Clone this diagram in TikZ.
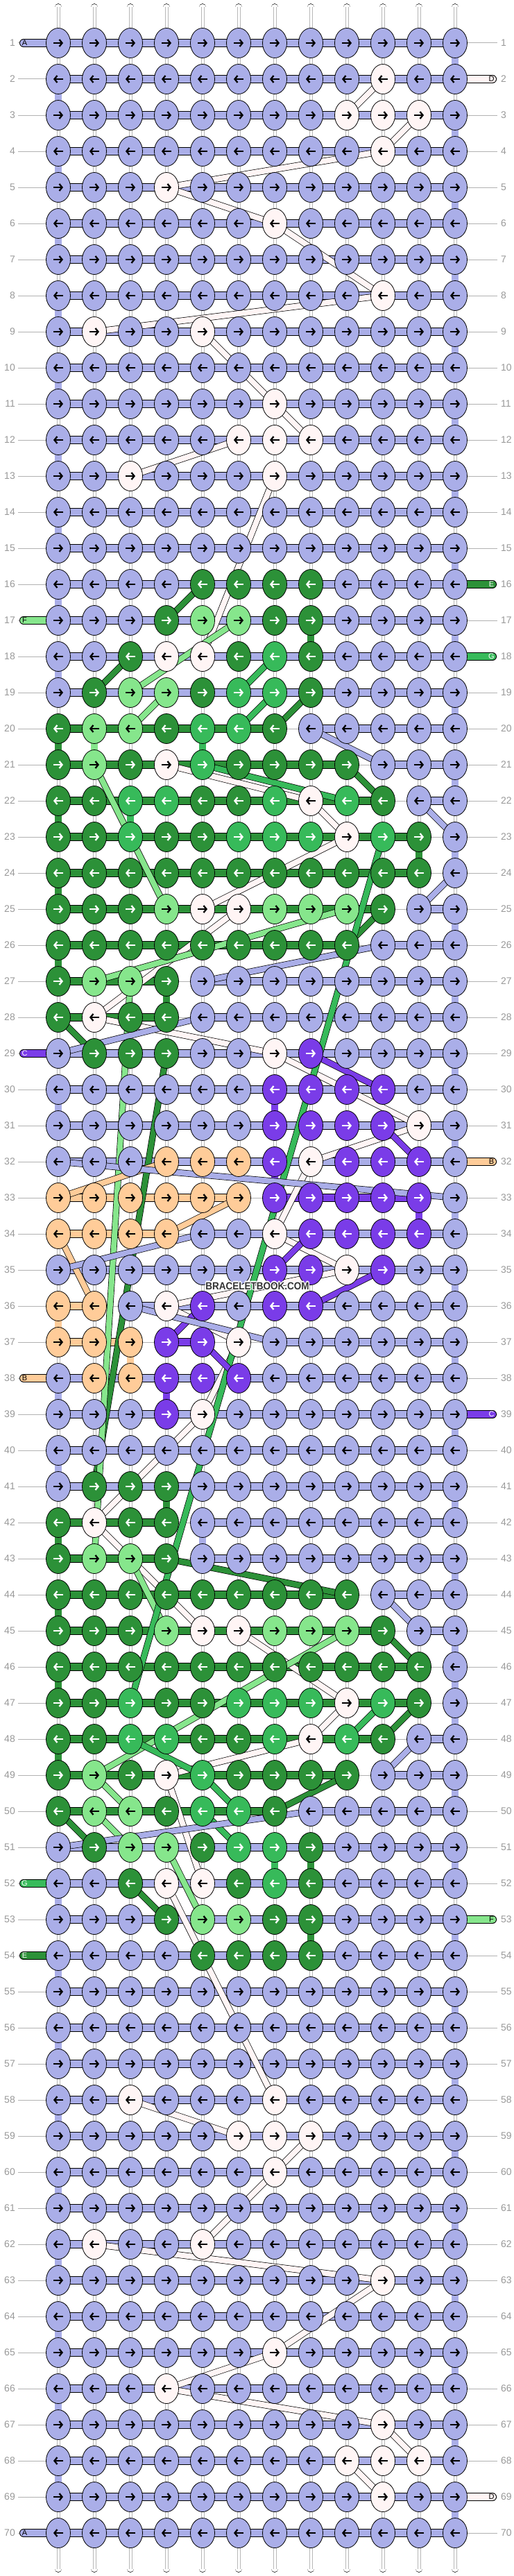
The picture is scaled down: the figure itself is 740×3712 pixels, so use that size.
\documentclass[tikz,border=0pt]{standalone}
\usepackage{fontspec}
\setmainfont{Liberation Sans}
\usetikzlibrary{shapes.geometric,arrows.meta}
\pgfdeclarelayer{guides}
\pgfdeclarelayer{strings}
\pgfdeclarelayer{bars}
\pgfdeclarelayer{bands}
\pgfsetlayers{guides,strings,bars,bands,main}
\definecolor{kfb}{HTML}{AAAEE8}
\definecolor{kfw}{HTML}{FFF5F5}
\definecolor{kfD}{HTML}{2C9138}
\definecolor{kfM}{HTML}{37BA5A}
\definecolor{kfL}{HTML}{86E68C}
\definecolor{kfP}{HTML}{7A3CE8}
\definecolor{kfO}{HTML}{FFCC99}
\colorlet{afb}{black}
\colorlet{afw}{black}
\colorlet{afD}{white}
\colorlet{afM}{white}
\colorlet{afL}{black}
\colorlet{afP}{white}
\colorlet{afO}{black}
\tikzset{
  knot/.style={ellipse, draw=black, line width=.8pt, minimum width=35pt, minimum height=43pt, inner sep=0pt},
  karrow/.style={line width=2.3pt, -{Straight Barb[length=4pt,width=10pt]}},
  hbar/.style={draw=black, line width=.8pt, double=#1, double distance=10.4pt},
  vcon/.style={draw=black, line width=.8pt, double=#1, double distance=9.2pt},
  band/.style={draw=black, line width=.7pt, double=#1, double distance=8pt},
  basestr/.style={draw=black, line width=.8pt, double=white, double distance=9.2pt, line cap=round},
  guide/.style={draw=black!30, line width=1pt},
  rownum/.style={text=black!40, font=\fontsize{14}{14}\selectfont, inner sep=0pt},
  tabbar/.style={draw=black, line width=.8pt, double=#1, double distance=10.4pt, line cap=round},
  tablabel/.style={font=\fontsize{11}{11}\selectfont, inner sep=0pt},
  wmark/.style={font=\bfseries\fontsize{15}{15}\selectfont, inner sep=0pt},
}
\newcount\kcol
\def\knotrow#1#2{\def\krow{#1}\global\kcol=0\relax\kparse#2\relax}
\def\kparse#1{\ifx\relax#1\else\global\advance\kcol by 1\relax\edef\kdo{\noexpand\drawknot{\krow}{\the\kcol}{#1}}\kdo\expandafter\kparse\fi}
\def\drawknot#1#2#3{%
  \node[knot,fill=kf#3] (k-#1-#2) at ({32+52*#2},{10+52*#1}) {};%
  \ifodd#1\relax
    \draw[karrow,color=af#3] ([xshift=-7pt]k-#1-#2.center) -- ([xshift=7pt]k-#1-#2.center);%
  \else
    \draw[karrow,color=af#3] ([xshift=7pt]k-#1-#2.center) -- ([xshift=-7pt]k-#1-#2.center);%
  \fi}
\newcommand\hbarx[4]{\draw[hbar=#4] (k-#1-#2.center) -- (k-#1-#3.center);}
\newcommand\vconx[5]{\draw[vcon=kf#5] (k-#1-#2.center) -- (k-#3-#4.center);}
\newcommand\bandx[5]{\draw[band=kf#5] (k-#1-#2.center) -- (k-#3-#4.center);}
\newcommand\ltab[4]{%
  \coordinate (tl-#1) at (34,{10+52*#1});
  \begin{pgfonlayer}{bars}\draw[tabbar=kf#3] (tl-#1) -- (k-#1-1.center);\end{pgfonlayer}
  \node[tablabel,text=#4] (tll-#1) at (35.5,{10+52*#1}) {#2};}
\newcommand\rtab[4]{%
  \coordinate (tr-#1) at (710,{10+52*#1});
  \begin{pgfonlayer}{bars}\draw[tabbar=kf#3] (k-#1-12.center) -- (tr-#1);\end{pgfonlayer}
  \node[tablabel,text=#4] (trl-#1) at (708.5,{10+52*#1}) {#2};}
\begin{document}
\begin{tikzpicture}[x=1pt,y=-1pt]
\useasboundingbox (0,0) rectangle (740,3712);
% knots
\knotrow{1}{bbbbbbbbbbbb}
\knotrow{2}{bbbbbbbbbwbb}
\knotrow{3}{bbbbbbbbwwwb}
\knotrow{4}{bbbbbbbbbwbb}
\knotrow{5}{bbbwbbbbbbbb}
\knotrow{6}{bbbbbbwbbbbb}
\knotrow{7}{bbbbbbbbbbbb}
\knotrow{8}{bbbbbbbbbwbb}
\knotrow{9}{bwbbwbbbbbbb}
\knotrow{10}{bbbbbbbbbbbb}
\knotrow{11}{bbbbbbwbbbbb}
\knotrow{12}{bbbbbwwwbbbb}
\knotrow{13}{bbwbbbwbbbbb}
\knotrow{14}{bbbbbbbbbbbb}
\knotrow{15}{bbbbbbbbbbbb}
\knotrow{16}{bbbbDDDDbbbb}
\knotrow{17}{bbbDLLDDbbbb}
\knotrow{18}{bbDwwDMDbbbb}
\knotrow{19}{bDLLDMMDbbbb}
\knotrow{20}{DLLDMMDbbbbb}
\knotrow{21}{DLDwMDDDDbbb}
\knotrow{22}{DDMMDDMwMDbb}
\knotrow{23}{DDMDDMMMwMDb}
\knotrow{24}{DDDDDDDDDDDb}
\knotrow{25}{DDDLwwLLLDbb}
\knotrow{26}{DDDDDDDDDbbb}
\knotrow{27}{DLLDbbbbbbbb}
\knotrow{28}{DwDDbbbbbbbb}
\knotrow{29}{bDDDbbwPbbbb}
\knotrow{30}{bbbbbbPPPPbb}
\knotrow{31}{bbbbbbPPPPwb}
\knotrow{32}{bbbOOOPwPPPb}
\knotrow{33}{OOOOOOPPPPPb}
\knotrow{34}{OOOObbwPPPPb}
\knotrow{35}{bbbbbbPPwPbb}
\knotrow{36}{OObwPbPPbbbb}
\knotrow{37}{OOOPPwbbbbbb}
\knotrow{38}{bOOPPPbbbbbb}
\knotrow{39}{bbbPwbbbbbbb}
\knotrow{40}{bbbbbbbbbbbb}
\knotrow{41}{bDDDbbbbbbbb}
\knotrow{42}{DwDDbbbbbbbb}
\knotrow{43}{DLLDbbbbbbbb}
\knotrow{44}{DDDDDDDDDbbb}
\knotrow{45}{DDDLwwLLLDbb}
\knotrow{46}{DDDDDDDDDDDb}
\knotrow{47}{DDMDDMMMwMDb}
\knotrow{48}{DDMMDDMwMDbb}
\knotrow{49}{DLDwMDDDDbbb}
\knotrow{50}{DLLDMMDbbbbb}
\knotrow{51}{bDLLDMMDbbbb}
\knotrow{52}{bbDwwDMDbbbb}
\knotrow{53}{bbbDLLDDbbbb}
\knotrow{54}{bbbbDDDDbbbb}
\knotrow{55}{bbbbbbbbbbbb}
\knotrow{56}{bbbbbbbbbbbb}
\knotrow{57}{bbbbbbbbbbbb}
\knotrow{58}{bbwbbbwbbbbb}
\knotrow{59}{bbbbbwwwbbbb}
\knotrow{60}{bbbbbbwbbbbb}
\knotrow{61}{bbbbbbbbbbbb}
\knotrow{62}{bwbbwbbbbbbb}
\knotrow{63}{bbbbbbbbbwbb}
\knotrow{64}{bbbbbbbbbbbb}
\knotrow{65}{bbbbbbwbbbbb}
\knotrow{66}{bbbwbbbbbbbb}
\knotrow{67}{bbbbbbbbbwbb}
\knotrow{68}{bbbbbbbbwwwb}
\knotrow{69}{bbbbbbbbbwbb}
\knotrow{70}{bbbbbbbbbbbb}
% guides and row numbers
\begin{pgfonlayer}{guides}
\fill[white] (0,0) rectangle (740,3712);
\foreach \r in {1,...,70}{\draw[guide] (26,{10+52*\r}) -- (717,{10+52*\r});}
\end{pgfonlayer}
\foreach \r in {1,...,70}{
  \node[rownum,anchor=east] (ln-\r) at (22,{10+52*\r}) {\r};
  \node[rownum,anchor=west] (rn-\r) at (722,{10+52*\r}) {\r};
}
% base strings
\begin{pgfonlayer}{strings}
\foreach \c in {1,...,12}{
  \coordinate (st-\c) at ({32+52*\c},10.5);
  \coordinate (sb-\c) at ({32+52*\c},3701.5);
  \draw[basestr] (st-\c) -- (sb-\c);
  \draw[black!28,line width=.5pt] ([xshift=-2.2pt]st-\c) -- ([xshift=-2.2pt]sb-\c);
  \draw[black!28,line width=.5pt] ([xshift=2.2pt]st-\c) -- ([xshift=2.2pt]sb-\c);
}
\end{pgfonlayer}
% horizontal bars and vertical connectors
\begin{pgfonlayer}{bars}
\foreach \r in {1,...,19}{\hbarx{\r}{1}{12}{kfb}}
\foreach \r in {29,...,32}{\hbarx{\r}{1}{12}{kfb}}
\foreach \r in {35,38,39,40,41}{\hbarx{\r}{1}{12}{kfb}}
\foreach \r in {51,...,70}{\hbarx{\r}{1}{12}{kfb}}
\hbarx{20}{1}{7}{kfD}\hbarx{20}{8}{12}{kfb}
\hbarx{21}{1}{9}{kfD}\hbarx{21}{10}{12}{kfb}
\hbarx{22}{1}{10}{kfD}\hbarx{22}{11}{12}{kfb}
\hbarx{23}{1}{11}{kfD}
\hbarx{24}{1}{11}{kfD}
\hbarx{25}{1}{10}{kfD}\hbarx{25}{11}{12}{kfb}
\hbarx{26}{1}{9}{kfD}\hbarx{26}{10}{12}{kfb}
\hbarx{27}{1}{4}{kfD}\hbarx{27}{5}{12}{kfb}
\hbarx{28}{1}{4}{kfD}\hbarx{28}{5}{12}{kfb}
\hbarx{33}{1}{6}{kfO}\hbarx{33}{7}{11}{kfP}
\hbarx{34}{1}{4}{kfO}\hbarx{34}{5}{12}{kfb}
\hbarx{36}{1}{2}{kfO}\hbarx{36}{3}{12}{kfb}
\hbarx{37}{1}{3}{kfO}\hbarx{37}{4}{5}{kfP}\hbarx{37}{7}{12}{kfb}
\hbarx{42}{1}{4}{kfD}\hbarx{42}{5}{12}{kfb}
\hbarx{43}{1}{4}{kfD}\hbarx{43}{5}{12}{kfb}
\hbarx{44}{1}{9}{kfD}\hbarx{44}{10}{12}{kfb}
\hbarx{45}{1}{10}{kfD}\hbarx{45}{11}{12}{kfb}
\hbarx{46}{1}{11}{kfD}
\hbarx{47}{1}{11}{kfD}
\hbarx{48}{1}{10}{kfD}\hbarx{48}{11}{12}{kfb}
\hbarx{49}{1}{9}{kfD}\hbarx{49}{10}{12}{kfb}
\hbarx{50}{1}{7}{kfD}\hbarx{50}{8}{12}{kfb}
% blue verticals
\foreach \r in {1,3,...,19}{\pgfmathtruncatemacro\rn{\r+1}\vconx{\r}{12}{\rn}{12}{b}}
\foreach \r in {51,53,...,69}{\pgfmathtruncatemacro\rn{\r+1}\vconx{\r}{12}{\rn}{12}{b}}
\foreach \r in {2,4,...,18}{\pgfmathtruncatemacro\rn{\r+1}\vconx{\r}{1}{\rn}{1}{b}}
\foreach \r in {52,54,...,68}{\pgfmathtruncatemacro\rn{\r+1}\vconx{\r}{1}{\rn}{1}{b}}
\foreach \r in {21,23,25,27,29,31,33,35,37,39,41,43,45,46,47,49}{\pgfmathtruncatemacro\rn{\r+1}\vconx{\r}{12}{\rn}{12}{b}}
\vconx{30}{1}{31}{1}{b}\vconx{38}{1}{39}{1}{b}\vconx{40}{1}{41}{1}{b}\vconx{42}{5}{43}{5}{b}
% dark green verticals
\vconx{17}{8}{18}{8}{D}\vconx{20}{1}{21}{1}{D}\vconx{22}{1}{23}{1}{D}\vconx{23}{11}{24}{11}{D}
\vconx{24}{1}{25}{1}{D}\vconx{26}{1}{27}{1}{D}\vconx{27}{4}{28}{4}{D}
\vconx{41}{4}{42}{4}{D}\vconx{42}{1}{43}{1}{D}\vconx{44}{1}{45}{1}{D}\vconx{46}{1}{47}{1}{D}
\vconx{48}{1}{49}{1}{D}\vconx{51}{8}{52}{8}{D}\vconx{53}{8}{54}{8}{D}
% other verticals
\vconx{20}{2}{21}{2}{L}
\vconx{20}{5}{21}{5}{M}\vconx{22}{3}{23}{3}{M}\vconx{51}{7}{52}{7}{M}
\vconx{30}{7}{31}{7}{P}\vconx{32}{7}{33}{7}{P}\vconx{33}{11}{34}{11}{P}\vconx{38}{4}{39}{4}{P}
\vconx{36}{1}{37}{1}{O}\vconx{37}{3}{38}{3}{O}
\vconx{18}{4}{21}{4}{w}
\end{pgfonlayer}
% diagonal strings
\begin{pgfonlayer}{bands}
% white
\bandx{2}{10}{3}{9}{w}\bandx{3}{11}{4}{10}{w}\bandx{4}{10}{5}{4}{w}\bandx{5}{4}{6}{7}{w}
\bandx{6}{7}{8}{10}{w}\bandx{8}{10}{9}{2}{w}\bandx{9}{5}{11}{7}{w}\bandx{11}{7}{12}{8}{w}
\bandx{12}{6}{13}{3}{w}\bandx{13}{7}{18}{5}{w}\bandx{21}{4}{22}{8}{w}\bandx{22}{8}{23}{9}{w}
\bandx{23}{9}{25}{5}{w}\bandx{25}{6}{28}{2}{w}\bandx{28}{2}{29}{7}{w}\bandx{29}{7}{31}{11}{w}
\bandx{31}{11}{32}{8}{w}\bandx{32}{8}{34}{7}{w}\bandx{34}{7}{35}{9}{w}\bandx{35}{9}{36}{4}{w}
\bandx{36}{4}{37}{6}{w}\bandx{37}{6}{39}{5}{w}\bandx{39}{5}{42}{2}{w}\bandx{42}{2}{45}{5}{w}
\bandx{45}{6}{47}{9}{w}\bandx{47}{9}{48}{8}{w}\bandx{48}{8}{49}{4}{w}\bandx{49}{4}{52}{5}{w}
\bandx{52}{4}{58}{7}{w}\bandx{58}{3}{59}{6}{w}\bandx{59}{8}{60}{7}{w}\bandx{60}{7}{62}{5}{w}
\bandx{62}{2}{63}{10}{w}\bandx{63}{10}{65}{7}{w}\bandx{65}{7}{66}{4}{w}\bandx{66}{4}{67}{10}{w}
\bandx{67}{10}{68}{11}{w}\bandx{68}{9}{69}{10}{w}
% dark green
\bandx{16}{5}{17}{4}{D}\bandx{18}{3}{19}{2}{D}\bandx{19}{8}{20}{7}{D}\bandx{21}{9}{22}{10}{D}
\bandx{25}{10}{26}{9}{D}\bandx{28}{1}{29}{2}{D}\bandx{29}{4}{41}{2}{D}\bandx{43}{4}{44}{9}{D}
\bandx{45}{10}{46}{11}{D}\bandx{47}{11}{48}{10}{D}\bandx{49}{9}{50}{7}{D}\bandx{50}{1}{51}{2}{D}
\bandx{52}{3}{53}{4}{D}
% light green
\bandx{17}{6}{19}{3}{L}\bandx{19}{4}{20}{3}{L}\bandx{21}{2}{25}{4}{L}\bandx{25}{9}{27}{2}{L}
\bandx{27}{3}{43}{2}{L}\bandx{43}{3}{45}{4}{L}\bandx{45}{9}{49}{2}{L}\bandx{49}{2}{50}{3}{L}
\bandx{50}{2}{51}{3}{L}\bandx{51}{4}{53}{5}{L}
% medium green
\bandx{18}{7}{19}{6}{M}\bandx{19}{7}{20}{6}{M}\bandx{21}{5}{22}{9}{M}\bandx{23}{10}{47}{3}{M}
\bandx{47}{10}{48}{9}{M}\bandx{48}{3}{49}{5}{M}\bandx{49}{5}{50}{6}{M}\bandx{50}{5}{51}{6}{M}
% purple
\bandx{29}{8}{30}{10}{P}\bandx{31}{10}{32}{11}{P}\bandx{34}{8}{35}{7}{P}\bandx{35}{10}{36}{8}{P}
\bandx{36}{5}{37}{4}{P}\bandx{37}{5}{38}{6}{P}
% peach
\bandx{32}{4}{33}{1}{O}\bandx{33}{6}{34}{4}{O}\bandx{34}{1}{36}{2}{O}
% blue
\bandx{20}{8}{21}{10}{b}\bandx{22}{11}{23}{12}{b}\bandx{24}{12}{25}{11}{b}\bandx{26}{10}{27}{5}{b}
\bandx{28}{5}{29}{1}{b}\bandx{32}{1}{33}{12}{b}\bandx{34}{5}{35}{1}{b}\bandx{36}{3}{37}{7}{b}
\bandx{44}{10}{45}{11}{b}\bandx{48}{11}{49}{10}{b}\bandx{50}{8}{51}{1}{b}
\end{pgfonlayer}
% string ends
\ltab{1}{A}{b}{black}
\ltab{17}{F}{L}{black}
\ltab{29}{C}{P}{white}
\ltab{38}{B}{O}{black}
\ltab{52}{G}{M}{white}
\ltab{54}{E}{D}{white}
\ltab{70}{A}{b}{black}
\rtab{2}{D}{w}{black}
\rtab{16}{E}{D}{white}
\rtab{18}{G}{M}{white}
\rtab{32}{B}{O}{black}
\rtab{39}{C}{P}{white}
\rtab{53}{F}{L}{black}
\rtab{69}{D}{w}{black}
% watermark with white halo
\foreach \dx/\dy in {-1.2/0,1.2/0,0/-1.2,0/1.2,-.9/-.9,.9/.9,-.9/.9,.9/-.9}{
  \node[wmark, text=white] at ({371+\dx},{1853+\dy}) {\scalebox{0.9}[1]{BRACELETBOOK.COM}};
}
\node[wmark, text=black!80] (wm) at (371,1853) {\scalebox{0.9}[1]{BRACELETBOOK.COM}};
\end{tikzpicture}
\end{document}
